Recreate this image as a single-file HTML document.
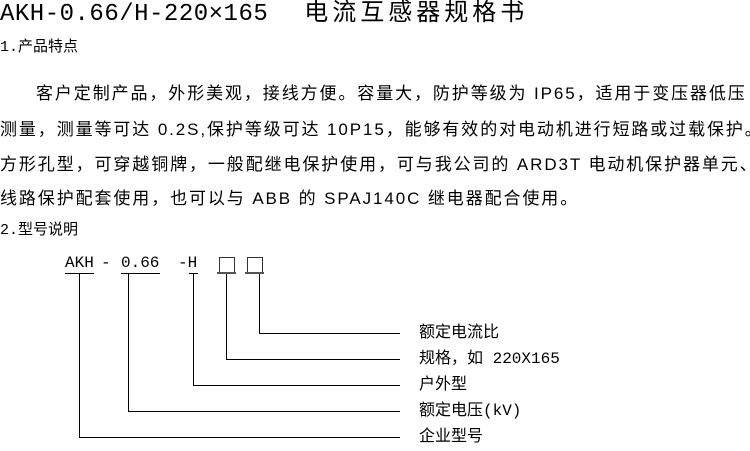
<!DOCTYPE html>
<html><head><meta charset="utf-8"><style>
body{margin:0;width:750px;height:451px;background:#fff;position:relative;overflow:hidden;font-family:"Liberation Mono","Noto Sans CJK SC",monospace;color:#000}
.t{position:absolute;white-space:nowrap;line-height:1}
.p{font-size:17px;letter-spacing:1.9px;font-family:"Liberation Sans","Noto Sans CJK SC",sans-serif}
.l{position:absolute;background:#000}
</style></head><body>
<div class="t" style="left:0;top:3px;font-size:24px;letter-spacing:0.5px">AKH-0.66/H-220×165<span style="margin-left:36px;letter-spacing:4px">电流互感器规格书</span></div>
<div class="t" style="left:0;top:40px;font-size:15px">1.产品特点</div>
<div class="t p" style="left:36px;top:85px">客户定制产品，外形美观，接线方便。容量大，防护等级为 IP65，适用于变压器低压</div>
<div class="t p" style="left:0;top:121px">测量，测量等可达 0.2S,保护等级可达 10P15，能够有效的对电动机进行短路或过载保护。</div>
<div class="t p" style="left:0;top:156px">方形孔型，可穿越铜牌，一般配继电保护使用，可与我公司的 ARD3T 电动机保护器单元、ALP</div>
<div class="t p" style="left:0;top:190px">线路保护配套使用，也可以与 ABB 的 SPAJ140C 继电器配合使用。</div>
<div class="t" style="left:0;top:223px;font-size:15px">2.型号说明</div>
<div class="t" style="left:65px;top:255px;font-size:16px">AKH</div>
<div class="t" style="left:101px;top:255px;font-size:16px">-</div>
<div class="t" style="left:121px;top:255px;font-size:16px">0.66</div>
<div class="t" style="left:178px;top:255px;font-size:16px">-H</div>
<div style="position:absolute;left:219px;top:257px;width:14px;height:14px;border:1px solid #333"></div>
<div style="position:absolute;left:247px;top:257px;width:14px;height:14px;border:1px solid #333"></div>
<div class="l" style="left:65px;top:273px;width:29px;height:1px"></div>
<div class="l" style="left:121px;top:273px;width:39px;height:1px"></div>
<div class="l" style="left:189px;top:273px;width:9px;height:1px"></div>
<div class="l" style="left:217px;top:272px;width:19px;height:2px;background:#555"></div>
<div class="l" style="left:245px;top:272px;width:19px;height:2px;background:#555"></div>
<div class="l" style="left:79px;top:274px;width:1px;height:164px"></div>
<div class="l" style="left:79px;top:437px;width:321px;height:1px"></div>
<div class="l" style="left:128px;top:274px;width:1px;height:138px"></div>
<div class="l" style="left:128px;top:411px;width:272px;height:1px"></div>
<div class="l" style="left:193px;top:274px;width:1px;height:112px"></div>
<div class="l" style="left:193px;top:385px;width:207px;height:1px"></div>
<div class="l" style="left:226px;top:274px;width:1px;height:86px"></div>
<div class="l" style="left:226px;top:359px;width:174px;height:1px"></div>
<div class="l" style="left:259px;top:274px;width:1px;height:60px"></div>
<div class="l" style="left:259px;top:333px;width:141px;height:1px"></div>
<div class="t" style="left:419px;top:325px;font-size:16px">额定电流比</div>
<div class="t" style="left:419px;top:351px;font-size:16px">规格，如 220X165</div>
<div class="t" style="left:419px;top:377px;font-size:16px">户外型</div>
<div class="t" style="left:419px;top:403px;font-size:16px">额定电压(kV)</div>
<div class="t" style="left:419px;top:429px;font-size:16px">企业型号</div>
</body></html>
